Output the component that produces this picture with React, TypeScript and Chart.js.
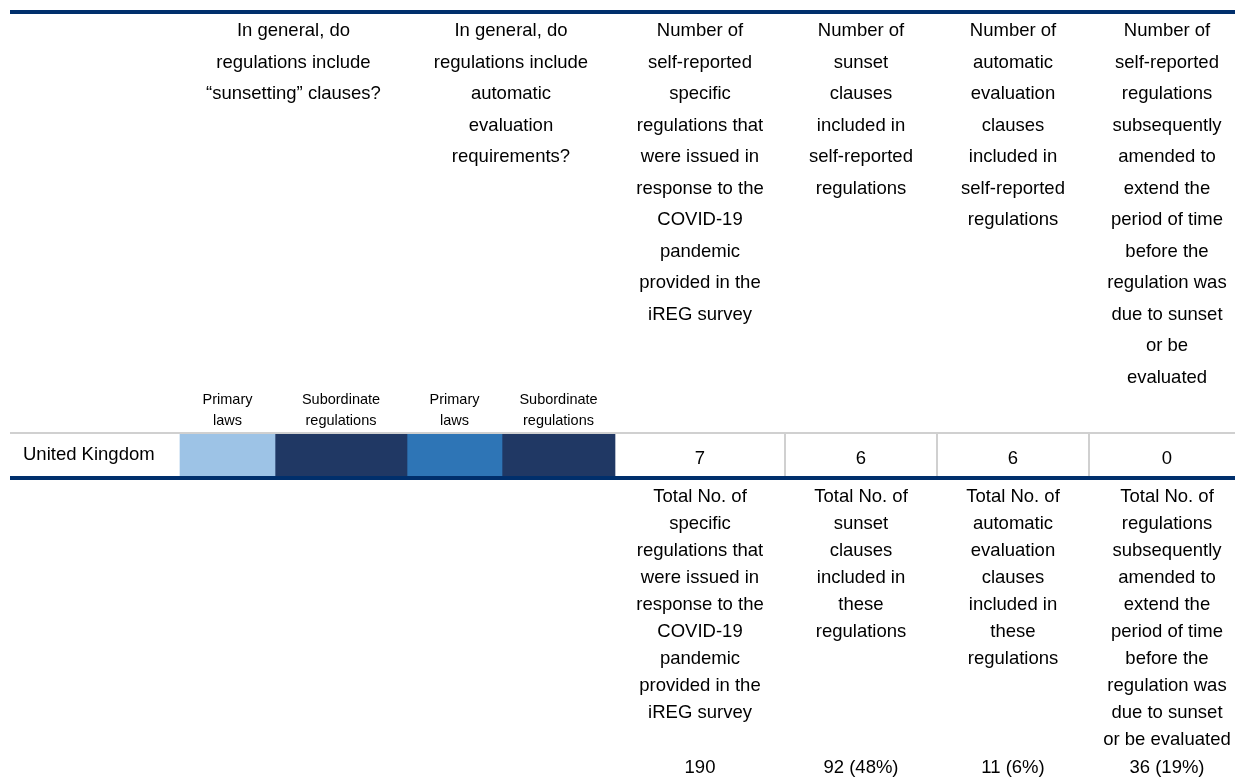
import React, { useEffect, useRef } from "react";
import { Chart, registerables } from "chart.js";

Chart.register(...registerables);

// ---------- data ----------
const countries = ["United Kingdom"];
const questionHeaders = [
  ["In general, do", "regulations include", "\u201csunsetting\u201d clauses?"],
  ["In general, do", "regulations include", "automatic", "evaluation", "requirements?"],
];
const subHeaders = [
  ["Primary", "laws"],
  ["Subordinate", "regulations"],
  ["Primary", "laws"],
  ["Subordinate", "regulations"],
];
// answer level per sub-column (sunset primary, sunset subordinate, evaluation primary, evaluation subordinate)
const ukAnswerLevels = [1, 3, 2, 3];
const countHeaders = [
  ["Number of", "self-reported", "specific", "regulations that", "were issued in", "response to the", "COVID-19", "pandemic", "provided in the", "iREG survey"],
  ["Number of", "sunset", "clauses", "included in", "self-reported", "regulations"],
  ["Number of", "automatic", "evaluation", "clauses", "included in", "self-reported", "regulations"],
  ["Number of", "self-reported", "regulations", "subsequently", "amended to", "extend the", "period of time", "before the", "regulation was", "due to sunset", "or be", "evaluated"],
];
const ukCounts = [7, 6, 6, 0];
const totalHeaders = [
  ["Total No. of", "specific", "regulations that", "were issued in", "response to the", "COVID-19", "pandemic", "provided in the", "iREG survey"],
  ["Total No. of", "sunset", "clauses", "included in", "these", "regulations"],
  ["Total No. of", "automatic", "evaluation", "clauses", "included in", "these", "regulations"],
  ["Total No. of", "regulations", "subsequently", "amended to", "extend the", "period of time", "before the", "regulation was", "due to sunset", "or be evaluated"],
];
const totalCounts = [190, 92, 11, 36];
const totalPercents: (number | null)[] = [null, 48, 6, 19];

// ---------- layout / style ----------
const W = 1235;
const H = 783;
const cellEdges = [180, 275, 407, 502, 615];
const countEdges = [615, 785, 937, 1089, 1245];
const levelColors: Record<number, string> = { 1: "#9DC3E6", 2: "#2E75B6", 3: "#203864" };
const NAVY = "#002F6C";
const GRAY = "#D0D0D0";
const FONT = "'Liberation Sans', Arial, sans-serif";

const tablePlugin = {
  id: "tableText",
  afterDraw(chart: any) {
    const ctx = chart.ctx as CanvasRenderingContext2D;
    const xs = chart.scales.x;
    const area = chart.chartArea;
    const px = (v: number) => xs.getPixelForValue(v);
    ctx.save();
    // lines
    ctx.fillStyle = NAVY;
    ctx.fillRect(px(10), 10, px(W) - px(10), 4);
    ctx.fillRect(px(10), area.bottom, px(W) - px(10), 4);
    ctx.fillStyle = GRAY;
    ctx.fillRect(px(10), area.top - 2, px(W) - px(10), 2);
    for (let i = 1; i < countEdges.length - 1; i++) {
      ctx.fillRect(px(countEdges[i]) - 1, area.top, 2, area.bottom - area.top);
    }
    ctx.fillStyle = "#000";
    ctx.textAlign = "center";
    ctx.textBaseline = "middle";
    // question headers
    ctx.font = `18.5px ${FONT}`;
    const qCenters = [
      (px(cellEdges[0]) + px(cellEdges[2])) / 2,
      (px(cellEdges[2]) + px(cellEdges[4])) / 2,
    ];
    questionHeaders.forEach((lines, i) => {
      lines.forEach((t, j) => ctx.fillText(t, qCenters[i], 31 + j * 31.5));
    });
    const cCenters = countEdges.slice(0, -1).map((e, i) => (px(e) + px(countEdges[i + 1])) / 2);
    countHeaders.forEach((lines, i) => {
      lines.forEach((t, j) => ctx.fillText(t, cCenters[i], 31 + j * 31.5));
    });
    // sub headers
    ctx.font = `14.5px ${FONT}`;
    subHeaders.forEach((lines, i) => {
      const cx = (px(cellEdges[i]) + px(cellEdges[i + 1])) / 2;
      lines.forEach((t, j) => ctx.fillText(t, cx, 400 + j * 20.5));
    });
    // row label
    ctx.font = `18.5px ${FONT}`;
    ctx.textAlign = "left";
    countries.forEach((c) => ctx.fillText(c, px(23), (area.top + area.bottom) / 2));
    ctx.textAlign = "center";
    ctx.font = `18.5px ${FONT}`;
    ukCounts.forEach((v, i) => ctx.fillText(String(v), cCenters[i], area.bottom - 17));
    // totals
    ctx.font = `18.5px ${FONT}`;
    totalHeaders.forEach((lines, i) => {
      lines.forEach((t, j) => ctx.fillText(t, cCenters[i], 497 + j * 27));
    });
    totalCounts.forEach((v, i) => {
      const p = totalPercents[i];
      const s = p === null ? String(v) : `${v} (${p}%)`;
      ctx.fillText(s, cCenters[i], 768);
    });
    ctx.restore();
  },
};

export default function App() {
  const ref = useRef<HTMLCanvasElement | null>(null);
  useEffect(() => {
    if (!ref.current) return;
    const datasets = ukAnswerLevels.map((lvl, i) => ({
      label: `col${i}`,
      data: [[cellEdges[i], cellEdges[i + 1]]] as any,
      backgroundColor: levelColors[lvl],
      borderWidth: 0,
      borderSkipped: false,
      barPercentage: 1,
      categoryPercentage: 1,
      grouped: false,
    }));
    const chart = new Chart(ref.current, {
      type: "bar",
      data: { labels: countries, datasets },
      options: {
        indexAxis: "y",
        responsive: false,
        animation: false,
        events: [],
        layout: { padding: { top: 434, bottom: H - 476, left: 0, right: 0 } },
        scales: {
          x: { type: "linear", min: 0, max: W, display: false },
          y: { type: "category", display: false, offset: true },
        },
        plugins: { legend: { display: false }, tooltip: { enabled: false } },
      } as any,
      plugins: [tablePlugin],
    });
    return () => chart.destroy();
  }, []);
  return (
    <div style={{ position: "fixed", left: 0, top: 0, width: W, height: H, background: "#fff" }}>
      <canvas ref={ref} width={W} height={H} style={{ width: W, height: H, display: "block" }} />
    </div>
  );
}
